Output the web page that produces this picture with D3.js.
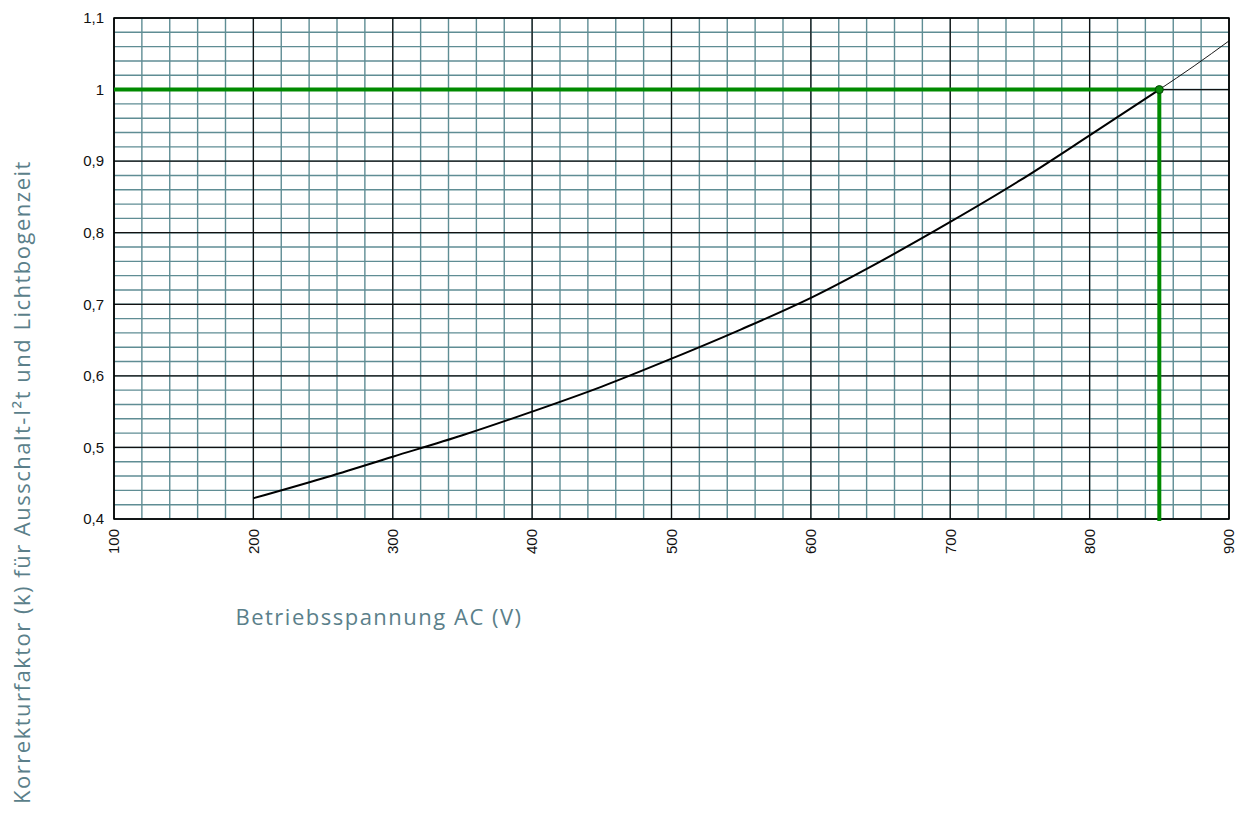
<!DOCTYPE html>
<html>
<head>
<meta charset="utf-8">
<script src="https://cdn.jsdelivr.net/npm/d3@7"></script>
<style>
  body { margin: 0; background: #fff; }
  svg { display: block; }
</style>
</head>
<body>
<div id="chart"></div>
<script>
// Curve (voltage V -> factor k)
const voltages = [200, 250, 300, 350, 400, 450, 500, 550, 600, 650, 700, 750, 800, 850];
const factors  = [0.429, 0.457, 0.487, 0.517, 0.55, 0.585, 0.624, 0.665, 0.709, 0.76, 0.815, 0.873, 0.936, 1.0];
// thin extension beyond the operating point
const extVoltages = [850, 875, 900];
const extFactors  = [1.0, 1.033, 1.068];
// marked operating point
const markV = 850;
const markK = 1.0;

const xTicks = [100, 200, 300, 400, 500, 600, 700, 800, 900];
const yTicks = [0.4, 0.5, 0.6, 0.7, 0.8, 0.9, 1.0, 1.1];
const xMinor = d3.range(100, 901, 20);
const yMinor = d3.range(40, 111, 2).map(v => v / 100);

const W = 1236, H = 816;
const MARGIN = { top: 18, right: 7, bottom: 297, left: 114 };
const innerW = W - MARGIN.left - MARGIN.right;
const innerH = H - MARGIN.top - MARGIN.bottom;
const TICK_FONT = "'Liberation Sans', Arial, Helvetica, sans-serif";
const TITLE_FONT = "'Open Sans', sans-serif";

const svg = d3.select('#chart').append('svg')
  .attr('width', W)
  .attr('height', H);

const x = d3.scaleLinear().domain([100, 900]).range([0, innerW]);
const y = d3.scaleLinear().domain([0.4, 1.1]).range([innerH, 0]);

const g = svg.append('g').attr('transform', `translate(${MARGIN.left},${MARGIN.top})`);

// minor grid
g.append('g').selectAll('line')
  .data(xMinor)
  .join('line')
  .attr('x1', d => x(d)).attr('x2', d => x(d))
  .attr('y1', 0).attr('y2', innerH)
  .attr('stroke', '#5f8d94').attr('stroke-width', 1.4);

g.append('g').selectAll('line')
  .data(yMinor)
  .join('line')
  .attr('x1', 0).attr('x2', innerW)
  .attr('y1', d => y(d)).attr('y2', d => y(d))
  .attr('stroke', '#5f8d94').attr('stroke-width', 1.4);

// major grid
g.append('g').selectAll('line')
  .data(xTicks)
  .join('line')
  .attr('x1', d => x(d)).attr('x2', d => x(d))
  .attr('y1', 0).attr('y2', innerH)
  .attr('stroke', '#111').attr('stroke-width', 1.2);

g.append('g').selectAll('line')
  .data(yTicks)
  .join('line')
  .attr('x1', 0).attr('x2', innerW)
  .attr('y1', d => y(d)).attr('y2', d => y(d))
  .attr('stroke', '#111').attr('stroke-width', 1.2);

// frame
g.append('rect')
  .attr('width', innerW).attr('height', innerH)
  .attr('fill', 'none').attr('stroke', '#000').attr('stroke-width', 1.5);

// tick labels
const fmt = d => String(+d.toFixed(1)).replace('.', ',');
g.append('g').selectAll('text')
  .data(yTicks)
  .join('text')
  .attr('x', -10)
  .attr('y', d => y(d))
  .attr('dy', '0.35em')
  .attr('text-anchor', 'end')
  .attr('font-family', TICK_FONT)
  .attr('font-size', 15)
  .attr('fill', '#111')
  .text(fmt);

g.append('g').selectAll('text')
  .data(xTicks)
  .join('text')
  .attr('transform', d => `translate(${x(d)},${innerH + 10}) rotate(-90)`)
  .attr('dy', '0.35em')
  .attr('text-anchor', 'end')
  .attr('font-family', TICK_FONT)
  .attr('font-size', 15)
  .attr('fill', '#111')
  .text(d => d);

// green guide lines to the operating point
g.append('line')
  .attr('x1', 0).attr('x2', x(markV))
  .attr('y1', y(markK)).attr('y2', y(markK))
  .attr('stroke', '#008a00').attr('stroke-width', 4);
g.append('line')
  .attr('x1', x(markV)).attr('x2', x(markV))
  .attr('y1', y(markK)).attr('y2', innerH + 2)
  .attr('stroke', '#008a00').attr('stroke-width', 4);

// curve
const line = d3.line().x(d => x(d[0])).y(d => y(d[1])).curve(d3.curveMonotoneX);
g.append('path')
  .datum(extVoltages.map((v, i) => [v, extFactors[i]]))
  .attr('d', line)
  .attr('fill', 'none').attr('stroke', '#000').attr('stroke-width', 0.9);
g.append('path')
  .datum(voltages.map((v, i) => [v, factors[i]]))
  .attr('d', line)
  .attr('fill', 'none').attr('stroke', '#000').attr('stroke-width', 2);

g.append('circle')
  .attr('cx', x(markV)).attr('cy', y(markK)).attr('r', 4)
  .attr('fill', '#0a8a0a').attr('stroke', '#064406').attr('stroke-width', 1);

// axis titles
svg.append('text')
  .attr('x', 379).attr('y', 625)
  .attr('text-anchor', 'middle')
  .attr('font-family', TITLE_FONT)
  .attr('font-size', 22)
  .attr('letter-spacing', 1.5)
  .attr('fill', '#5b7f8a')
  .text('Betriebsspannung AC (V)');

svg.append('text')
  .attr('transform', 'translate(30,482) rotate(-90)')
  .attr('text-anchor', 'middle')
  .attr('font-family', TITLE_FONT)
  .attr('font-size', 22)
  .attr('letter-spacing', 1.5)
  .attr('fill', '#5b7f8a')
  .text('Korrekturfaktor (k) für Ausschalt-I²t und Lichtbogenzeit');
</script>
</body>
</html>
